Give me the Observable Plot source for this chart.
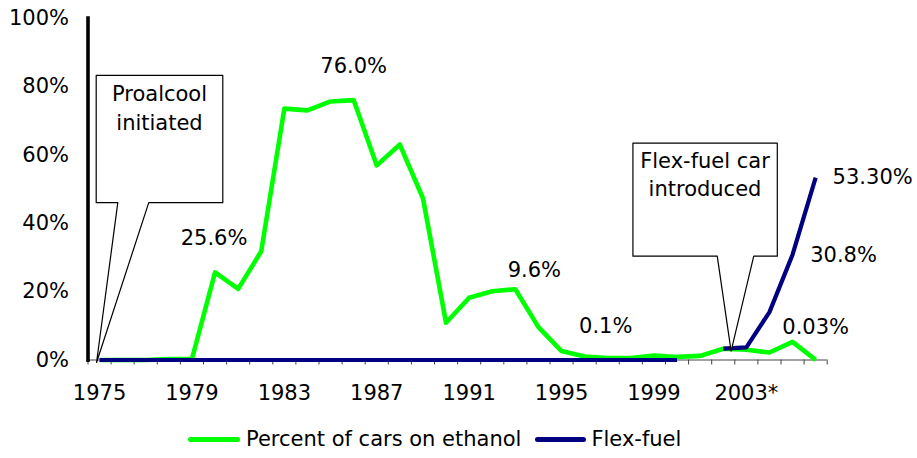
<!DOCTYPE html>
<html>
<head>
<meta charset="utf-8">
<script src="https://cdn.jsdelivr.net/npm/d3@7"></script>
<script src="https://cdn.jsdelivr.net/npm/@observablehq/plot@0.6"></script>
<style>
  html, body { margin: 0; padding: 0; background: #fff; }
  #wrap { position: relative; width: 917px; height: 458px; overflow: hidden; background: #fff; font-family: "DejaVu Sans", sans-serif; }
  #legend { position: absolute; left: 188px; top: 426px; height: 26px; display: flex; align-items: center; font-size: 21px; color: #000; white-space: nowrap; }
  .sw { display: inline-block; height: 5px; border-radius: 3px; }
</style>
</head>
<body>
<div id="wrap"><div id="chart"></div>
  <div id="legend">
    <span class="sw" style="width:52px;background:#00ff00;margin-right:6px"></span><span>Percent of cars on ethanol</span>
    <span class="sw" style="width:51px;background:#000080;margin-left:14px;margin-right:5px"></span><span>Flex-fuel</span>
  </div>
</div>
<script>
// ---- data ----
const years = [1975,1976,1977,1978,1979,1980,1981,1982,1983,1984,1985,1986,1987,1988,1989,1990,
               1991,1992,1993,1994,1995,1996,1997,1998,1999,2000,2001,2002,2003,2004,2005,2006];
const ethanolShare = [0,0,0,0.3,0.3,25.6,20.8,31.8,73.5,73.0,75.6,76.0,56.9,63.0,47.3,10.9,
                      18.2,20.1,20.7,9.6,2.6,1.0,0.6,0.6,1.3,0.9,1.2,3.3,3.0,2.2,5.3,0.03];
const flexShare = [0,0,0,0,0,0,0,0,0,0,0,0,0,0,0,0,
                   0,0,0,0,0,0,0,0,0,0,null,3.3,3.7,14.0,30.8,53.3];
const xTickYears = [1975,1979,1983,1987,1991,1995,1999,2003];
const xTickLabels = ["1975","1979","1983","1987","1991","1995","1999","2003*"];
const yTicks = [0,20,40,60,80,100];
const seriesNames = ["Percent of cars on ethanol","Flex-fuel"];

// data labels: which point, and text
const labelYears  = [1980, 1986, 1993, 1997, 2006, 2005, 2006];
const labelSeries = ["eth","eth","eth","eth","eth","flex","flex"];
const labelTexts  = ["25.6%","76.0%","9.6%","0.1%","0.03%","30.8%","53.30%"];

// callout annotations
const calloutTexts = ["Proalcool\ninitiated", "Flex-fuel car\nintroduced"];

// ---- layout (annotation placement) ----
const labelDx = [-1, 0, 19, -2, 0, 51, 57];
const labelDy = [-34, -34, -19, -32, -33, 1, 0];
const callouts = [
  {x0: 1974.855, x1: 1980.335, yTop: 83.2, yBot: 46.0, pb1: 1975.79, pb2: 1977.13, tipX: 1974.87, tipY: -0.73,
   tx: 1977.595, ty: 74.3, lh: 1.38},
  {x0: 1998.09, x1: 2004.34, yTop: 63.4, yBot: 30.35, pb1: 2001.74, pb2: 2003.32, tipX: 2002.34, tipY: 2.6,
   tx: 2001.21, ty: 54.7, lh: 1.33}
];

const eth = years.map((y, i) => ({year: y, value: ethanolShare[i]}));
const flex = years.map((y, i) => ({year: y, value: flexShare[i]}));
const boundaries = [...years.map(y => y - 0.5), years[years.length - 1] + 0.5];
const tickLabelMap = new Map(xTickYears.map((y, i) => [y, xTickLabels[i]]));
const labels = labelYears.map((y, i) => {
  const src = labelSeries[i] === "eth" ? eth : flex;
  const pt = src.find(d => d.year === y);
  return {year: y, value: pt.value, text: labelTexts[i], dx: labelDx[i], dy: labelDy[i]};
});
const calloutPolys = callouts.map(c => [
  [c.x0, c.yTop], [c.x1, c.yTop], [c.x1, c.yBot], [c.pb2, c.yBot], [c.tipX, c.tipY], [c.pb1, c.yBot], [c.x0, c.yBot]
]);

const marks = [
  Plot.axisY(yTicks, {tickSize: 0, tickPadding: 19, tickFormat: d => d + "%", fontSize: 21, label: null}),
  Plot.ruleY([0], {stroke: "#444", strokeWidth: 1}),
  Plot.axisX(boundaries, {tickSize: 5, tickFormat: () => "", stroke: "#444", label: null}),
  Plot.axisX(xTickYears, {tickSize: 0, tickPadding: 25.5, tickFormat: d => tickLabelMap.get(d), fontSize: 21, label: null}),
  Plot.ruleX([boundaries[0]], {y1: -0.7, y2: 100.4, stroke: "#000", strokeWidth: 3.6}),
  Plot.line(eth, {x: "year", y: "value", stroke: "#00ff00", strokeWidth: 4.6, strokeLinejoin: "round", strokeLinecap: "butt"}),
  Plot.line(flex, {x: "year", y: "value", stroke: "#000080", strokeWidth: 4.2, strokeLinejoin: "round", strokeLinecap: "butt"}),
  ...labels.map(l => Plot.text([l], {x: "year", y: "value", text: "text", dx: l.dx, dy: l.dy, fontSize: 21, fill: "#000"})),
  ...calloutPolys.map(p => Plot.line(p, {x: d => d[0], y: d => d[1], curve: "linear-closed", fill: "white", stroke: "#000", strokeWidth: 1.2})),
  ...callouts.map((c, i) => Plot.text([calloutTexts[i]], {x: () => c.tx, y: () => c.ty, text: d => d, lineHeight: c.lh, fontSize: 21, fill: "#000"}))
];

const chart = Plot.plot({
  width: 917,
  height: 415,
  marginLeft: 87.5,
  marginRight: 90.3,
  marginTop: 17.5,
  marginBottom: 55.5,
  style: {fontFamily: "DejaVu Sans, sans-serif", fontSize: "21px", color: "#000", background: "transparent", overflow: "visible"},
  x: {domain: [boundaries[0], boundaries[boundaries.length - 1]], axis: null, label: null},
  y: {domain: [0, 100], axis: null, label: null},
  marks
});
document.getElementById("chart").appendChild(chart);
</script>
</body>
</html>
